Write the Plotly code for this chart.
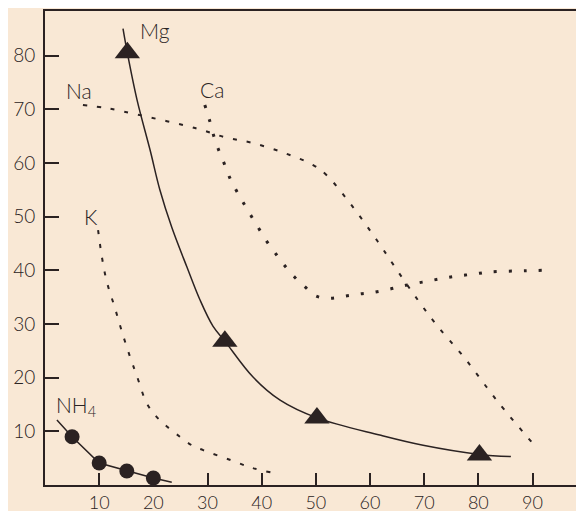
import plotly.graph_objects as go

# Mg (solid curve with triangle markers)
mg_curve_x = [14.4, 15.2, 17.0, 19.4, 21.2, 23.4, 26.2, 28.6, 31.0, 33.2, 38.4, 43.4, 50.2, 61.8, 69.8, 80.2, 86.0]
mg_curve_y = [85.0, 80.5, 71.7, 62.4, 55.0, 48.0, 40.6, 34.5, 29.6, 26.8, 20.1, 15.8, 12.5, 9.3, 7.4, 5.7, 5.3]
mg_pts_x = [15.2, 33.2, 50.2, 80.2]
mg_pts_y = [80.5, 26.8, 12.5, 5.6]

# NH4 (solid line with circle markers)
nh4_line_x = [2.2, 5.0, 10.0, 15.1, 20.0, 23.4]
nh4_line_y = [12.1, 9.0, 4.1, 2.6, 1.3, 0.5]
nh4_pts_x = [5.0, 10.0, 15.1, 20.0]
nh4_pts_y = [9.0, 4.1, 2.6, 1.3]

# Na (dashed)
na_x = [7.0, 11.4, 17.5, 27.7, 33.2, 38.4, 44.3, 49.5, 52.0, 56.3, 61.4, 64.6, 68.8, 72.3, 77.5, 83.6, 90.0]
na_y = [70.8, 70.2, 68.9, 66.5, 64.8, 63.7, 61.8, 59.6, 57.7, 52.5, 45.4, 40.6, 34.5, 29.8, 23.6, 15.5, 7.8]

# Ca (dotted)
ca_x = [29.5, 30.3, 31.5, 33.0, 34.3, 35.8, 37.3, 39.1, 41.0, 42.8, 44.3, 46.1, 48.0, 50.0, 52.6, 55.4,
        58.1, 60.7, 63.7, 66.6, 69.7, 72.9, 76.0, 79.2, 82.3, 88.6, 91.7]
ca_y = [70.8, 68.2, 63.9, 60.1, 56.8, 54.0, 51.4, 48.4, 45.3, 42.8, 40.8, 38.7, 36.9, 35.2, 34.8, 35.2,
        35.6, 35.9, 36.5, 37.2, 37.8, 38.4, 38.9, 39.3, 39.7, 39.9, 40.0]

# K (dashed)
k_x = [9.8, 10.5, 11.4, 12.9, 14.4, 16.0, 16.9, 18.8, 20.6, 22.5, 24.9, 27.1, 29.2, 34.1, 38.2, 41.9]
k_y = [47.5, 42.5, 37.9, 33.0, 27.9, 23.0, 20.5, 15.2, 12.7, 10.9, 9.0, 7.4, 6.5, 4.7, 3.2, 2.3]

x_ticks = [10, 20, 30, 40, 50, 60, 70, 80, 90]
y_ticks = [10, 20, 30, 40, 50, 60, 70, 80]

labels = ["Mg", "Na", "Ca", "K", "NH<sub>4</sub>"]
label_x = [20.3, 6.3, 30.8, 8.5, 5.8]
label_y = [84.7, 73.4, 73.6, 50.1, 14.7]

ink = "#2b2222"
txt = "#2a2323"
bg = "#f9e8d5"
font = "Lato, 'Open Sans', sans-serif"

fig = go.Figure()
fig.add_trace(go.Scatter(x=na_x, y=na_y, mode="lines", line=dict(color=ink, width=2, dash="4px,10px", shape="spline")))
fig.add_trace(go.Scatter(x=ca_x, y=ca_y, mode="lines", line=dict(color=ink, width=3, dash="3px,12px", shape="spline")))
fig.add_trace(go.Scatter(x=k_x, y=k_y, mode="lines", line=dict(color=ink, width=2, dash="4px,10px", shape="spline")))
fig.add_trace(go.Scatter(x=mg_curve_x, y=mg_curve_y, mode="lines", line=dict(color=ink, width=1.5, shape="spline")))
fig.add_trace(go.Scatter(x=mg_pts_x, y=mg_pts_y, mode="markers",
                         marker=dict(symbol="triangle-up", size=22, color=ink)))
fig.add_trace(go.Scatter(x=nh4_line_x, y=nh4_line_y, mode="lines", line=dict(color=ink, width=1.5)))
fig.add_trace(go.Scatter(x=nh4_pts_x, y=nh4_pts_y, mode="markers",
                         marker=dict(symbol="circle", size=15, color=ink)))

for t, lx, ly in zip(labels, label_x, label_y):
    fig.add_annotation(x=lx, y=ly, text=t, showarrow=False, xref="x", yref="y",
                       font=dict(family=font, size=21, color=txt, weight=300))

# the page body adds an 8px offset, so the figure is sized to fill the rest of the window
fig.update_layout(
    width=576, height=503,
    margin=dict(l=37, r=0, t=3, b=26),
    paper_bgcolor=bg, plot_bgcolor=bg,
    showlegend=False,
    font=dict(family=font, size=19, color=txt, weight=300),
)
fig.update_xaxes(range=[0, 99.5], tickvals=x_ticks, ticks="inside", ticklen=12, tickwidth=1.5,
                 tickcolor=ink, showline=True, linecolor=ink, linewidth=1.8, mirror=True,
                 showgrid=False, zeroline=False, ticklabelstandoff=0, automargin=False,
                 tickfont=dict(family=font, size=18, color=txt, weight=300))
fig.update_yaxes(range=[0, 88.3], tickvals=y_ticks, ticks="inside", ticklen=14, tickwidth=1.5,
                 tickcolor=ink, showline=True, linecolor=ink, linewidth=1.8, mirror=False,
                 showgrid=False, zeroline=False, ticklabelstandoff=4, automargin=False,
                 tickfont=dict(family=font, size=19, color=txt, weight=300))

fig.write_html("out.html")
